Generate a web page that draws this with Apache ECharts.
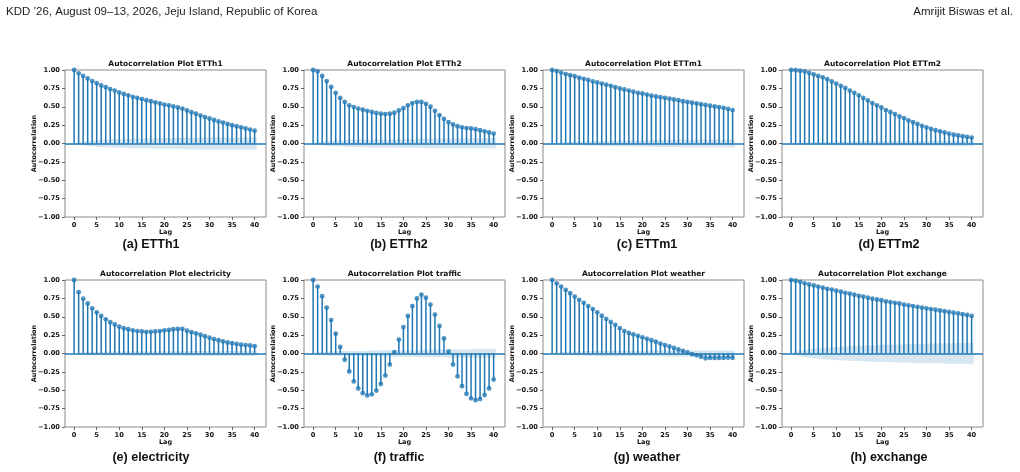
<!DOCTYPE html>
<html>
<head>
<meta charset="utf-8">
<script src="https://cdn.jsdelivr.net/npm/echarts@6/dist/echarts.min.js"></script>
<style>
  html, body { margin: 0; padding: 0; background: #fff; }
  #chart { width: 1020px; height: 472px; }
</style>
</head>
<body>
<div id="chart"></div>
<script>
  // lags 0..40 and tick labels
  var lags = [0, 1, 2, 3, 4, 5, 6, 7, 8, 9, 10, 11, 12, 13, 14, 15, 16, 17, 18, 19, 20,
    21, 22, 23, 24, 25, 26, 27, 28, 29, 30, 31, 32, 33, 34, 35, 36, 37, 38, 39, 40];
  var xTicks = [0, 5, 10, 15, 20, 25, 30, 35, 40];
  var yTicks = [-1, -0.75, -0.5, -0.25, 0, 0.25, 0.5, 0.75, 1];
  var bandLags = [0.5, 1, 2, 3, 5, 8, 12, 16, 20, 25, 30, 35, 40.5];

  var names = ['ETTh1', 'ETTh2', 'ETTm1', 'ETTm2', 'electricity', 'traffic', 'weather', 'exchange'];
  var captions = ['(a) ETTh1', '(b) ETTh2', '(c) ETTm1', '(d) ETTm2',
    '(e) electricity', '(f) traffic', '(g) weather', '(h) exchange'];

  var acfETTh1 = [1.00, 0.955, 0.92, 0.885, 0.85, 0.82, 0.79, 0.765, 0.74, 0.72, 0.695, 0.675, 0.655, 0.635,
    0.62, 0.605, 0.59, 0.575, 0.56, 0.545, 0.53, 0.52, 0.505, 0.49, 0.475, 0.45, 0.425, 0.405, 0.38, 0.36,
    0.34, 0.32, 0.30, 0.285, 0.265, 0.25, 0.235, 0.22, 0.205, 0.19, 0.175];
  var acfETTh2 = [1.00, 0.98, 0.92, 0.85, 0.77, 0.69, 0.62, 0.565, 0.52, 0.495, 0.475, 0.46, 0.445, 0.43,
    0.415, 0.405, 0.40, 0.405, 0.42, 0.45, 0.48, 0.52, 0.55, 0.565, 0.565, 0.54, 0.50, 0.445, 0.385, 0.335,
    0.29, 0.26, 0.235, 0.22, 0.21, 0.205, 0.195, 0.18, 0.165, 0.15, 0.135];
  var acfETTm1 = [1.00, 0.985, 0.965, 0.945, 0.93, 0.915, 0.895, 0.88, 0.865, 0.845, 0.83, 0.815, 0.80, 0.785,
    0.765, 0.75, 0.735, 0.72, 0.705, 0.69, 0.68, 0.665, 0.65, 0.64, 0.63, 0.62, 0.61, 0.60, 0.59, 0.575,
    0.565, 0.555, 0.545, 0.535, 0.525, 0.515, 0.505, 0.495, 0.485, 0.47, 0.455];
  var acfETTm2 = [1.00, 0.998, 0.99, 0.98, 0.96, 0.94, 0.92, 0.90, 0.875, 0.845, 0.815, 0.785, 0.755, 0.72,
    0.69, 0.655, 0.62, 0.585, 0.55, 0.52, 0.49, 0.455, 0.43, 0.40, 0.37, 0.345, 0.315, 0.29, 0.265, 0.24,
    0.22, 0.20, 0.18, 0.165, 0.15, 0.135, 0.12, 0.11, 0.10, 0.09, 0.08];
  var acfElectricity = [1.00, 0.835, 0.745, 0.68, 0.615, 0.56, 0.51, 0.465, 0.425, 0.395, 0.365, 0.345, 0.33,
    0.315, 0.305, 0.30, 0.295, 0.295, 0.30, 0.305, 0.315, 0.32, 0.33, 0.335, 0.335, 0.31, 0.29, 0.275, 0.255,
    0.235, 0.215, 0.195, 0.18, 0.165, 0.15, 0.14, 0.13, 0.12, 0.115, 0.11, 0.10];
  var acfTraffic = [1.00, 0.91, 0.78, 0.625, 0.455, 0.27, 0.09, -0.085, -0.245, -0.38, -0.475, -0.54, -0.57,
    -0.555, -0.505, -0.415, -0.30, -0.15, 0.02, 0.19, 0.36, 0.51, 0.645, 0.75, 0.80, 0.76, 0.665, 0.53, 0.375,
    0.205, 0.025, -0.15, -0.31, -0.445, -0.55, -0.61, -0.635, -0.62, -0.565, -0.475, -0.355];
  var acfWeather = [1.00, 0.955, 0.91, 0.865, 0.82, 0.775, 0.73, 0.69, 0.645, 0.605, 0.56, 0.515, 0.47, 0.43,
    0.39, 0.345, 0.305, 0.28, 0.26, 0.24, 0.22, 0.20, 0.18, 0.16, 0.135, 0.115, 0.095, 0.075, 0.055, 0.035,
    0.015, -0.01, -0.025, -0.045, -0.065, -0.06, -0.06, -0.06, -0.06, -0.055, -0.06];
  var acfExchange = [1.00, 0.99, 0.975, 0.955, 0.94, 0.925, 0.91, 0.895, 0.88, 0.87, 0.855, 0.84, 0.825, 0.815,
    0.80, 0.785, 0.775, 0.76, 0.745, 0.735, 0.725, 0.71, 0.70, 0.69, 0.68, 0.665, 0.655, 0.645, 0.635, 0.625,
    0.615, 0.605, 0.595, 0.585, 0.575, 0.565, 0.555, 0.545, 0.535, 0.525, 0.51];

  // 95% confidence band half-widths at bandLags
  var bandETTh1 = [0.015, 0.016, 0.027, 0.034, 0.044, 0.054, 0.063, 0.069, 0.073, 0.077, 0.080, 0.081, 0.082];
  var bandETTh2 = [0.015, 0.016, 0.027, 0.034, 0.042, 0.048, 0.053, 0.056, 0.059, 0.065, 0.068, 0.069, 0.070];
  var bandETTm1 = [0.008, 0.008, 0.014, 0.018, 0.024, 0.030, 0.036, 0.041, 0.044, 0.047, 0.050, 0.052, 0.054];
  var bandETTm2 = [0.006, 0.006, 0.011, 0.014, 0.018, 0.023, 0.028, 0.031, 0.033, 0.035, 0.0355, 0.036, 0.036];
  var bandElectricity = [0.010, 0.010, 0.016, 0.019, 0.023, 0.027, 0.029, 0.030, 0.031, 0.033, 0.034, 0.035, 0.035];
  var bandTraffic = [0.014, 0.014, 0.023, 0.028, 0.032, 0.033, 0.037, 0.043, 0.043, 0.052, 0.057, 0.059, 0.065];
  var bandWeather = [0.010, 0.010, 0.017, 0.021, 0.027, 0.033, 0.037, 0.039, 0.039, 0.040, 0.040, 0.040, 0.040];
  var bandExchange = [0.022, 0.022, 0.038, 0.048, 0.064, 0.080, 0.096, 0.108, 0.117, 0.126, 0.134, 0.140, 0.146];

  var acfs = [acfETTh1, acfETTh2, acfETTm1, acfETTm2, acfElectricity, acfTraffic, acfWeather, acfExchange];
  var bands = [bandETTh1, bandETTh2, bandETTm1, bandETTm2, bandElectricity, bandTraffic, bandWeather, bandExchange];

  var blue = '#1f77b4';
  var tickFont = 'DejaVu Sans';
  var colLeft = [65, 304, 543, 782];
  var rowTop = [70, 280];
  var plotW = 201, plotH = 147;
  var capX = [151, 399, 647, 889];
  var capY = [245, 458];

  var chart = echarts.init(document.getElementById('chart'), null, { renderer: 'canvas' });

  var grids = [], xAxes = [], yAxes = [], series = [];
  var graphics = [
    { type: 'text', x: 6, y: 12, style: { text: 'KDD \u201926, August 09\u201313, 2026, Jeju Island, Republic of Korea',
      font: '11.5px "Liberation Sans"', fill: '#222', align: 'left', verticalAlign: 'middle' } },
    { type: 'text', x: 1013, y: 12, style: { text: 'Amrijit Biswas et al.',
      font: '11.5px "Liberation Sans"', fill: '#222', align: 'right', verticalAlign: 'middle' } }
  ];

  function fmt(v) {
    var s = Math.abs(v).toFixed(2);
    return v < 0 ? '\u2212' + s : s;
  }

  names.forEach(function (name, i) {
    var col = i % 4, row = Math.floor(i / 4);
    grids.push({
      left: colLeft[col], top: rowTop[row], width: plotW, height: plotH,
      show: true, borderColor: '#8a8a8a', borderWidth: 1, backgroundColor: 'transparent'
    });
    xAxes.push({
      type: 'value', gridIndex: i, min: -2.025, max: 42.525,
      name: 'Lag', nameLocation: 'middle', nameGap: 12, nameMoveOverlap: false,
      nameTextStyle: { fontFamily: tickFont, fontWeight: 'bold', fontSize: 6.5, color: '#111' },
      axisLine: { show: false, onZero: false },
      axisTick: { show: true, length: 3, customValues: xTicks, lineStyle: { color: '#444', width: 0.8 } },
      axisLabel: { customValues: xTicks, margin: 4.5, fontFamily: tickFont, fontWeight: 'bold', fontSize: 6.7, color: '#111' },
      splitLine: { show: false }
    });
    yAxes.push({
      type: 'value', gridIndex: i, min: -1, max: 1,
      name: 'Autocorrelation', nameLocation: 'middle', nameGap: 27, nameMoveOverlap: false,
      nameTextStyle: { fontFamily: tickFont, fontWeight: 'bold', fontSize: 6.5, color: '#111' },
      axisLine: { show: false, onZero: false },
      axisTick: { show: true, length: 3, customValues: yTicks, lineStyle: { color: '#444', width: 0.8 } },
      axisLabel: { customValues: yTicks, margin: 5, fontFamily: tickFont, fontWeight: 'bold', fontSize: 6.7, color: '#111',
        formatter: fmt },
      splitLine: { show: false }
    });

    var band = bands[i];
    var upper = bandLags.map(function (x, k) { return [x, band[k]]; });
    var lower = bandLags.map(function (x, k) { return [x, -band[k]]; });
    var pts = lags.map(function (x, k) { return [x, acfs[i][k]]; });

    [upper, lower].forEach(function (d) {
      series.push({
        type: 'line', xAxisIndex: i, yAxisIndex: i, data: d, smooth: 0.4,
        showSymbol: false, silent: true, z: 1,
        lineStyle: { width: 0, color: blue },
        areaStyle: { color: 'rgba(31,119,180,0.25)', origin: 0 }
      });
    });
    series.push({
      type: 'bar', xAxisIndex: i, yAxisIndex: i, data: pts, barWidth: 1.5, silent: true, z: 2,
      itemStyle: { color: blue },
      markLine: {
        silent: true, symbol: 'none', animation: false,
        label: { show: false },
        lineStyle: { color: blue, width: 1.5, type: 'solid' },
        data: [{ yAxis: 0 }]
      }
    });
    series.push({
      type: 'scatter', xAxisIndex: i, yAxisIndex: i, data: pts, symbolSize: 4.8, silent: true, z: 3,
      itemStyle: { color: blue }
    });

    graphics.push({ type: 'text', x: colLeft[col] + plotW / 2, y: rowTop[row] - 6,
      style: { text: 'Autocorrelation Plot ' + name, font: 'bold 7.5px "DejaVu Sans"', fill: '#111',
        align: 'center', verticalAlign: 'middle' } });
    graphics.push({ type: 'text', x: capX[col], y: capY[row],
      style: { text: captions[i], font: 'bold 12.5px "Liberation Sans"', fill: '#111',
        align: 'center', verticalAlign: 'middle' } });
  });

  chart.setOption({
    animation: false,
    backgroundColor: '#fff',
    grid: grids,
    xAxis: xAxes,
    yAxis: yAxes,
    series: series,
    graphic: graphics
  });
</script>
</body>
</html>
